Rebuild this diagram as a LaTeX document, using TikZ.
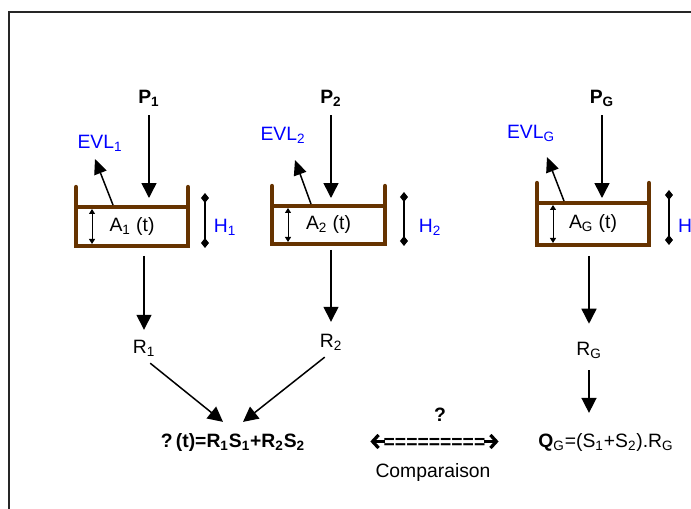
\documentclass[tikz,border=0pt]{standalone}
\usepackage{fontspec}
\setmainfont{Liberation Sans}
\usetikzlibrary{arrows.meta, calc}
\definecolor{tankbrown}{RGB}{102,51,0}

\begin{document}
\begin{tikzpicture}[
			x=0.02cm, y=-0.02cm,
			every node/.style={font=\fontsize{11}{13}\selectfont, inner sep=1pt},
			tank/.style={rectangle, draw=tankbrown, line width=0.085cm, outer sep=0pt,
				minimum width=2.24cm, align=center},
			wall/.style={draw=tankbrown, line width=0.085cm, line cap=round},
			boldlabel/.style={font=\fontsize{11}{13}\selectfont\bfseries},
			vapour/.style={text=blue},
			flow/.style={-{Triangle[length=0.3cm, width=0.3cm]}, line width=0.03cm},
			evap/.style={-{Triangle[length=0.3cm, width=0.26cm]}, line width=0.03cm},
			level/.style={{Triangle[length=0.1cm, width=0.12cm]}-{Triangle[length=0.1cm, width=0.12cm]}, line width=0.02cm},
			height/.style={{Diamond[length=0.2cm, width=0.16cm]}-{Diamond[length=0.2cm, width=0.16cm]}, line width=0.04cm},
			cmptip/.style={-{Straight Barb[length=0.12cm, width=0.26cm, line width=0.065cm]}, line width=0.065cm},
			frame/.style={draw=black!85, line width=0.025cm}
			]
			\useasboundingbox (0,0) rectangle (691,509);
			\draw[frame] (9,530) -- (9,12) -- (710,12);
			
			% tank 1
			\node[tank, minimum height=0.78cm] (A1) at (132,226.5) {A\textsubscript{1} (t)};
			\node[boldlabel] (P1) at (149,98) {P\textsubscript{1}};
			\node[vapour] (EVL1) at (100,143) {EVL\textsubscript{1}};
			\node[vapour] (H1) at (225,227) {H\textsubscript{1}};
			\node (R1) at (144,348) {R\textsubscript{1}};
			
			% tank 2
			\node[tank, minimum width=2.26cm, minimum height=0.76cm] (A2) at (328.5,225) {A\textsubscript{2} (t)};
			\node[boldlabel] (P2) at (331,98) {P\textsubscript{2}};
			\node[vapour] (EVL2) at (283,135) {EVL\textsubscript{2}};
			\node[vapour] (H2) at (430,227) {H\textsubscript{2}};
			\node (R2) at (331,342) {R\textsubscript{2}};
			
			% global tank
			\node[tank, minimum height=0.84cm] (AG) at (593,224) {A\textsubscript{G} (t)};
			\node[boldlabel] (PG) at (602,98) {P\textsubscript{G}};
			\node[vapour] (EVLG) at (531,133) {EVL\textsubscript{G}};
			\node[vapour] (HG) at (685,226) {H};
			\node (RG) at (589,350) {R\textsubscript{G}};
			
			\foreach \t in {A1, A2, AG} {
				\draw[wall] (\t.north west) -- ++(0,-20);
				\draw[wall] (\t.north east) -- ++(0,-20);
				\draw[level] ($(\t.south west)+(16,-2)$) -- ($(\t.north west)+(16,2)$);
			}
			\draw[height] ($(A1.north east)+(17,-14)$) -- ($(A1.south east)+(17,2)$);
			\draw[height] ($(A2.north east)+(19,-14)$) -- ($(A2.south east)+(19,2)$);
			\draw[height] ($(AG.north east)+(20,-13)$) -- ($(AG.south east)+(20,0)$);
			
			\draw[flow, shorten <=0.14cm, shorten >=0.18cm] (P1.south) -- (P1 |- A1.north);
			\draw[flow, shorten <=0.14cm, shorten >=0.16cm] (P2.south) -- (P2 |- A2.north);
			\draw[flow, shorten <=0.14cm, shorten >=0.10cm] (PG.south) -- (PG |- AG.north);
			
			\draw[evap] ($(A1.north west)+(37,-2)$) -- ($(EVL1)+(-5,16)$);
			\draw[evap] ($(A2.north west)+(39,-2)$) -- ($(EVL2)+(12,25)$);
			\draw[evap] ($(AG.north west)+(27,-2)$) -- ($(EVLG)+(16,24)$);
			
			\draw[flow, shorten <=0.2cm, shorten >=0.16cm] (A1.south -| R1) -- (R1);
			\draw[flow, shorten <=0.12cm, shorten >=0.2cm] (A2.south -| R2) -- (R2);
			\draw[flow, shorten <=0.22cm, shorten >=0.32cm] (AG.south -| RG) -- (RG);
			
			% bilan
			\node[boldlabel] (F) at (233,443) {?\,(t)=R\textsubscript{1}S\textsubscript{1}+R\textsubscript{2}S\textsubscript{2}};
			\node[boldlabel] (Qmark) at (440,415) {?};
			\node[boldlabel, inner sep=0pt] (cmp) at (434.5,443) {=========};
			\node (cmplabel) at (433,473) {Comparaison};
			\node (QG) at (606,443) {\textbf{Q}\textsubscript{G}=(S\textsubscript{1}+S\textsubscript{2}).R\textsubscript{G}};
			
			\draw[cmptip] ($(cmp.west)+(2,-1.5)$) -- ($(cmp.west)+(-13,-1.5)$);
			\draw[cmptip] ($(cmp.east)+(-2,-1.5)$) -- ($(cmp.east)+(13,-1.5)$);
			
			\draw[flow, shorten <=0.16cm] (R1.south) -- ($(F.north)+(-10,-10)$);
			\draw[flow, shorten <=0.16cm] (R2.south) -- ($(F.north)+(10,-10)$);
			\draw[flow, shorten <=0.2cm, shorten >=0.38cm] (RG) -- (RG |- QG.north);
		\end{tikzpicture}
\end{document}
